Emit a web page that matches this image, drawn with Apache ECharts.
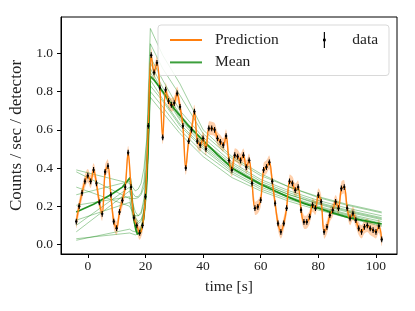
<!DOCTYPE html>
<html>
<head>
<meta charset="utf-8">
<script src="https://cdn.jsdelivr.net/npm/echarts@6/dist/echarts.min.js"></script>
<style>html,body{margin:0;padding:0;background:#fff}#c{width:415px;height:311px}</style>
</head>
<body>
<div id="c"></div>
<script>
// ---- data ----
const times = [-4,-3,-2,-1,0,1,2,3,4,5,6,7,8,9,10,11,12,13,14,15,16,17,18,19,20,21,22,23,24,25,26,27,28,29,30,31,32,33,34,35,36,37,38,39,40,41,42,43,44,45,46,47,48,49,50,51,52,53,54,55,56,57,58,59,60,61,62,63,64,65,66,67,68,69,70,71,72,73,74,75,76,77,78,79,80,81,82,83,84,85,86,87,88,89,90,91,92,93,94,95,96,97,98,99,100,101,102];
const counts = [0.12,0.20,0.27,0.33,0.36,0.33,0.39,0.32,0.22,0.16,0.38,0.41,0.26,0.12,0.085,0.17,0.23,0.30,0.48,0.30,0.14,0.10,0.06,0.10,0.25,0.62,0.99,0.90,0.95,0.82,0.56,0.81,0.75,0.73,0.74,0.79,0.72,0.62,0.40,0.54,0.60,0.695,0.54,0.52,0.555,0.50,0.607,0.607,0.60,0.555,0.537,0.52,0.567,0.44,0.39,0.467,0.46,0.44,0.467,0.405,0.44,0.32,0.19,0.197,0.232,0.39,0.405,0.43,0.33,0.215,0.11,0.066,0.11,0.19,0.33,0.32,0.284,0.30,0.18,0.118,0.118,0.145,0.206,0.19,0.258,0.223,0.066,0.092,0.153,0.18,0.223,0.19,0.293,0.30,0.19,0.136,0.162,0.127,0.084,0.066,0.092,0.10,0.084,0.075,0.066,0.096,0.026];
const countErr = 0.015;      // error bar half-height
const predSigma = 0.035;     // prediction band half-width

const meanX = [-4,2,8,12,14.7,15.2,15.7,16.2,16.7,17.2,17.7,18.2,18.7,19.2,19.7,20.2,20.7,21.2,21.7,23,26,30,35,40,45,50,55,60,65,70,75,80,85,90,95,102];
const meanY = [0.17,0.21,0.26,0.30,0.35,0.27,0.18,0.115,0.075,0.055,0.05,0.06,0.085,0.125,0.19,0.28,0.45,0.69,0.88,0.86,0.80,0.71,0.62,0.545,0.47,0.40,0.355,0.315,0.28,0.245,0.215,0.19,0.165,0.143,0.127,0.107];

const sampleX = [-4,14.5,15.5,16.5,17.5,18.5,19.5,20.5,21,21.7,26,32,40,50,60,70,80,90,102];
const samples = [
  [0.39,0.32,0.27,0.25,0.25,0.27,0.33,0.55,0.80,1.13,0.99,0.84,0.60,0.46,0.37,0.30,0.25,0.21,0.17],
  [0.38,0.24,0.24,0.24,0.245,0.26,0.30,0.45,0.65,1.05,0.92,0.78,0.58,0.45,0.36,0.30,0.245,0.205,0.165],
  [0.26,0.33,0.30,0.28,0.29,0.32,0.40,0.56,0.72,0.98,0.86,0.70,0.56,0.43,0.34,0.28,0.23,0.19,0.15],
  [0.10,0.30,0.20,0.14,0.12,0.13,0.18,0.35,0.55,0.95,0.82,0.68,0.54,0.42,0.33,0.27,0.22,0.18,0.14],
  [0.066,0.28,0.22,0.17,0.15,0.16,0.22,0.40,0.60,0.90,0.79,0.65,0.52,0.40,0.32,0.26,0.21,0.17,0.13],
  [0.022,0.08,0.07,0.066,0.07,0.09,0.15,0.35,0.55,0.86,0.76,0.63,0.51,0.39,0.31,0.25,0.20,0.16,0.12],
  [0.205,0.25,0.15,0.09,0.07,0.08,0.13,0.30,0.50,0.83,0.75,0.62,0.50,0.38,0.30,0.245,0.195,0.155,0.11],
  [0.127,0.22,0.18,0.13,0.11,0.12,0.17,0.33,0.52,0.80,0.72,0.60,0.48,0.37,0.29,0.235,0.19,0.15,0.10],
  [0.03,0.06,0.055,0.05,0.055,0.08,0.13,0.28,0.46,0.77,0.69,0.58,0.46,0.35,0.28,0.225,0.18,0.14,0.095],
  [0.30,0.20,0.17,0.15,0.15,0.17,0.24,0.42,0.62,0.92,0.80,0.66,0.53,0.41,0.32,0.26,0.215,0.175,0.135]
];

const xTicks = [0,20,40,60,80,100];
const yTicks = [0,0.2,0.4,0.6,0.8,1.0];

// ---- chart ----
const FONT = 'Liberation Serif';
const chart = echarts.init(document.getElementById('c'), null, {renderer:'canvas'});

const predPts = times.map((t,i)=>[t,counts[i]]);

const series = [];
// prediction uncertainty band (drawn once as a smooth polygon through axis coords)
series.push({type:'custom', name:'band', data:predPts, encode:{x:0,y:1}, z:1, silent:true,
  renderItem:function(params, api){
    if (params.dataIndex !== 0) return null;
    const up = [], lo = [];
    for (let i=0;i<times.length;i++){
      up.push(api.coord([times[i], counts[i]+predSigma]));
      lo.push(api.coord([times[i], counts[i]-predSigma]));
    }
    return {type:'polygon', shape:{points:up.concat(lo.reverse()), smooth:0.35},
       style:{fill:'rgba(255,150,70,0.45)', stroke:null}};
  }
});
samples.forEach((s,k)=>{
  series.push({type:'line', name:'sample'+k, data:sampleX.map((x,i)=>[x,s[i]]), symbol:'none',
    lineStyle:{color:'#008000', width:1, opacity:0.37}, silent:true, z:2});
});
series.push({type:'line', name:'Mean', data:meanX.map((x,i)=>[x,meanY[i]]), symbol:'none',
  lineStyle:{color:'#0a870a', width:1.7, opacity:0.9}, itemStyle:{color:'#3c9f3c'}, z:3});
series.push({type:'line', name:'Prediction', data:predPts, smooth:0.35, symbol:'none',
  lineStyle:{color:'#ff7f0e', width:1.4}, itemStyle:{color:'#ff7f0e'}, z:4});
series.push({type:'custom', name:'data', data:predPts, encode:{x:0,y:1}, z:5,
  itemStyle:{color:'#000'},
  renderItem:function(params, api){
    const x = api.value(0), y = api.value(1);
    const top = api.coord([x, y+countErr]);
    const bot = api.coord([x, y-countErr]);
    const c = api.coord([x, y]);
    return {type:'group', children:[
      {type:'line', shape:{x1:top[0],y1:top[1],x2:bot[0],y2:bot[1]}, style:{stroke:'#000', lineWidth:1.1}},
      {type:'circle', shape:{cx:c[0],cy:c[1],r:1.2}, style:{fill:'#000'}}
    ]};
  }
});

const lineIcon = 'path://M0,0h32v2h-32z';
const dataIcon = 'path://M2.5,0h1v14h-1z M1.8,5.8h2.4v2.4h-2.4z';

chart.setOption({
  animation:false,
  backgroundColor:'#fff',
  grid:{left:61, right:18, top:17, bottom:57, show:true, borderColor:'#000', borderWidth:1, backgroundColor:'transparent'},
  xAxis:{type:'value', min:-9.3, max:107.3,
    name:'time [s]', nameLocation:'middle', nameGap:25,
    nameTextStyle:{fontFamily:FONT, fontSize:15.5, color:'#222'},
    axisLine:{show:true, onZero:false, lineStyle:{color:'#000', width:1}},
    axisTick:{show:true, inside:false, length:4, customValues:xTicks, lineStyle:{color:'#000'}},
    axisLabel:{customValues:xTicks, margin:5, fontFamily:FONT, fontSize:13.5, color:'#222'},
    splitLine:{show:false}},
  yAxis:{type:'value', min:-0.05, max:1.19,
    name:'Counts / sec / detector', nameLocation:'middle', nameGap:32,
    nameTextStyle:{fontFamily:FONT, fontSize:17, color:'#222'},
    axisLine:{show:true, onZero:false, lineStyle:{color:'#000', width:1}},
    axisTick:{show:true, inside:false, length:4, customValues:yTicks, lineStyle:{color:'#000'}},
    axisLabel:{customValues:yTicks, margin:8, fontFamily:FONT, fontSize:13.5, color:'#222',
      formatter:function(v){return v.toFixed(1);}},
    splitLine:{show:false}},
  graphic:[{type:'rect', z:3, shape:{x:158, y:25, width:231, height:50.5, r:3},
    style:{fill:'rgba(255,255,255,0.85)', stroke:'#d9d9d9', lineWidth:1}}],
  legend:[
    {data:['Prediction','Mean'], orient:'vertical', left:165, top:27, itemWidth:32, itemHeight:16, itemGap:6.4,
     icon:lineIcon, z:5,
     textStyle:{fontFamily:FONT, fontSize:15.5, color:'#222', padding:[0,0,0,8], lineHeight:16}},
    {data:['data'], orient:'vertical', left:318, top:27, itemWidth:14, itemHeight:16, z:5,
     icon:dataIcon,
     textStyle:{fontFamily:FONT, fontSize:15.5, color:'#222', padding:[0,0,0,16], lineHeight:16}}
  ],
  series:series
});
</script>
</body>
</html>
